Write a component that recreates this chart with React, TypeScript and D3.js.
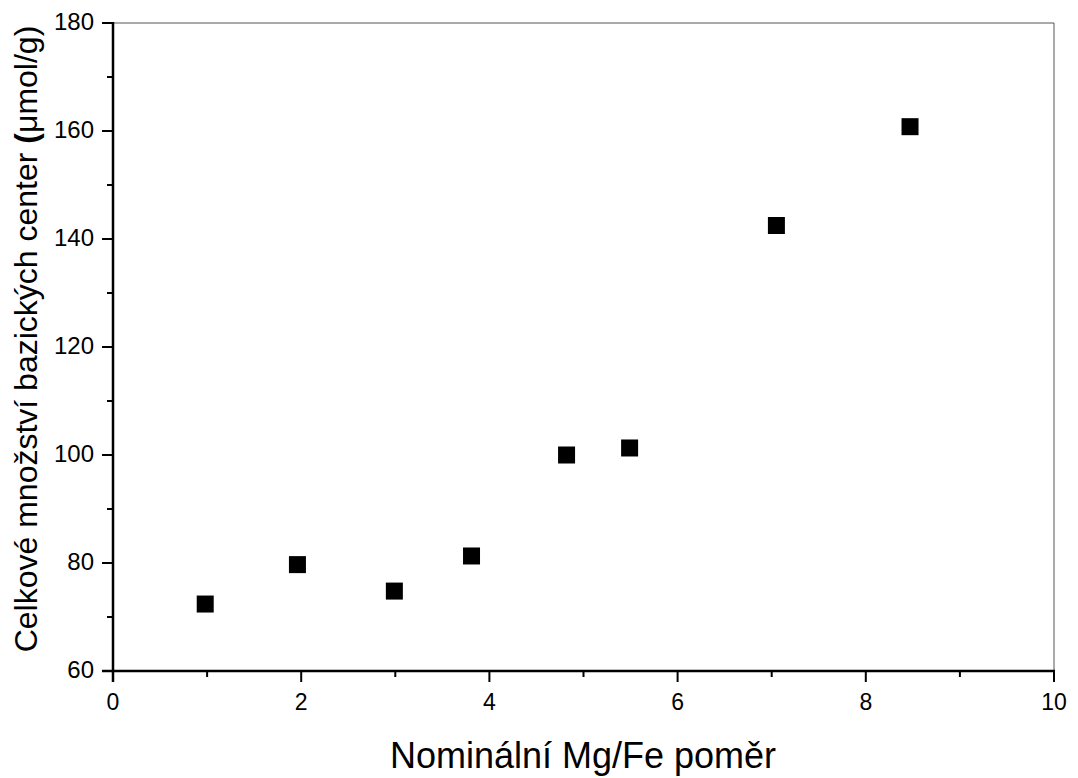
import React from "react";
import * as d3 from "d3";

const ratios = [0.98, 1.96, 2.99, 3.81, 4.82, 5.49, 7.05, 8.47];
const basicSites = [72.4, 79.7, 74.8, 81.3, 100.0, 101.3, 142.5, 160.8];
const xTicks = [0, 2, 4, 6, 8, 10];
const yTicks = [60, 80, 100, 120, 140, 160, 180];
const xMinor = [1, 3, 5, 7, 9];
const yMinor = [70, 90, 110, 130, 150, 170];

export default function App() {
  const W = 1078, H = 778;
  const L = 113, R = 1054, T = 23, B = 671;
  const x = d3.scaleLinear().domain([0, 10]).range([L, R]);
  const y = d3.scaleLinear().domain([60, 180]).range([B, T]);
  const font = "Arial, 'Liberation Sans', sans-serif";
  const ms = 17;
  return (
    <svg width={W} height={H} style={{ position: "absolute", left: 0, top: 0, background: "#fff" }} fontFamily={font}>
      <line x1={L} x2={R} y1={T} y2={T} stroke="#555" strokeWidth={1} />
      <line x1={R} x2={R} y1={T} y2={B} stroke="#555" strokeWidth={1} />
      <line x1={L} x2={L} y1={T - 1} y2={B + 11} stroke="#000" strokeWidth={2.5} />
      <line x1={L - 11} x2={R + 1} y1={B} y2={B} stroke="#000" strokeWidth={2.5} />
      {xTicks.map((t) => (
        <g key={"xt" + t}>
          <line x1={x(t)} x2={x(t)} y1={B} y2={B + 11} stroke="#000" strokeWidth={2} />
          <text x={x(t)} y={710} fontSize={23} textAnchor="middle" fill="#000">{t}</text>
        </g>
      ))}
      {xMinor.map((t) => (
        <line key={"xm" + t} x1={x(t)} x2={x(t)} y1={B} y2={B + 6} stroke="#000" strokeWidth={2} />
      ))}
      {yTicks.map((t) => (
        <g key={"yt" + t}>
          <line x1={L - 11} x2={L} y1={y(t)} y2={y(t)} stroke="#000" strokeWidth={2} />
          <text x={94} y={y(t) + 7} fontSize={24} textAnchor="end" fill="#000">{t}</text>
        </g>
      ))}
      {yMinor.map((t) => (
        <line key={"ym" + t} x1={L - 6} x2={L} y1={y(t)} y2={y(t)} stroke="#000" strokeWidth={2} />
      ))}
      {ratios.map((r, i) => (
        <rect key={"m" + i} x={x(r) - ms / 2} y={y(basicSites[i]) - ms / 2} width={ms} height={ms} fill="#000" />
      ))}
      <text x={583} y={768} fontSize={36} textAnchor="middle" fill="#000">Nominální Mg/Fe poměr</text>
      <text transform="translate(37,339) rotate(-90)" fontSize={32} textAnchor="middle" fill="#000">
        Celkové množství bazických center <tspan fontWeight="bold">(</tspan>μmol/g)
      </text>
    </svg>
  );
}
